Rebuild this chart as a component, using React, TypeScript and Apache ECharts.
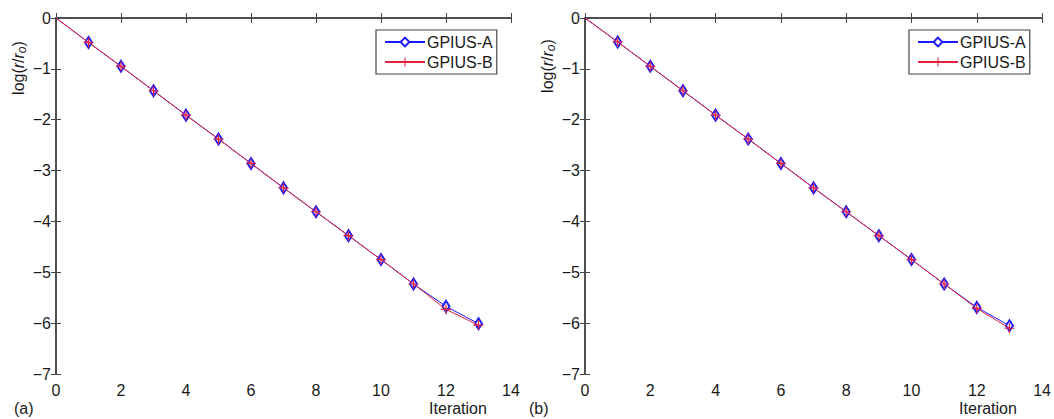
import React, { useEffect, useRef } from "react";
import * as echarts from "echarts";

const iterations = [0, 1, 2, 3, 4, 5, 6, 7, 8, 9, 10, 11, 12, 13];
const leftA = [0, -0.48, -0.95, -1.43, -1.91, -2.38, -2.86, -3.34, -3.81, -4.28, -4.75, -5.23, -5.67, -6.01];
const leftB = [0, -0.48, -0.95, -1.43, -1.91, -2.38, -2.86, -3.34, -3.81, -4.28, -4.75, -5.23, -5.73, -6.04];
const rightA = [0, -0.47, -0.95, -1.43, -1.91, -2.38, -2.86, -3.34, -3.81, -4.28, -4.75, -5.23, -5.69, -6.05];
const rightB = [0, -0.47, -0.95, -1.43, -1.91, -2.38, -2.86, -3.34, -3.81, -4.28, -4.75, -5.23, -5.71, -6.10];
const seriesNames = ["GPIUS-A", "GPIUS-B"];
const panelLabels = ["(a)", "(b)"];
const xName = "Iteration";

const FONT = "Liberation Sans, Arial, sans-serif";
const FS = 16;
const AXIS_COLOR = "#444";
const TXT = "#1a1a1a";
const BLUE = "#1a1aff";
const RED = "#e8203c";
const PLUS = "path://M4.4,0H5.6V4.4H10V5.6H5.6V10H4.4V5.6H0V4.4H4.4Z";

const toData = (ys: number[]) =>
  iterations.map((x, i) => (i === 0 ? { value: [x, ys[i]], symbol: "none" } : [x, ys[i]]));

const fmtY = (v: number) => (v < 0 ? "\u2212" + Math.abs(v) : String(v));

export default function App() {
  const ref = useRef<HTMLDivElement>(null);
  useEffect(() => {
    if (!ref.current) return;
    const chart = echarts.init(ref.current, undefined, { renderer: "svg" });
    const grids = [
      { left: 56, top: 18, width: 455, height: 356 },
      { left: 585, top: 18, width: 460, height: 356 },
    ];
    const xAxes: any[] = [];
    const yAxes: any[] = [];
    grids.forEach((_, gi) => {
      const line = { show: true, lineStyle: { color: AXIS_COLOR, width: 1.5 } };
      const tick = { show: true, inside: true, length: 5, lineStyle: { color: AXIS_COLOR } };
      xAxes.push({
        type: "value", gridIndex: gi, min: 0, max: 14, interval: 2, position: "bottom",
        axisLine: line, axisTick: tick,
        axisLabel: { color: TXT, fontSize: FS, fontFamily: FONT, margin: 8 },
        splitLine: { show: false },
      });
      xAxes.push({
        type: "value", gridIndex: gi, min: 0, max: 14, interval: 2, position: "top",
        axisLine: line, axisTick: tick, axisLabel: { show: false }, splitLine: { show: false },
      });
      yAxes.push({
        type: "value", gridIndex: gi, min: -7, max: 0, interval: 1, position: "left",
        axisLine: line, axisTick: tick,
        axisLabel: { color: TXT, fontSize: FS, fontFamily: FONT, margin: 5, formatter: fmtY },
        splitLine: { show: false },
      });
      yAxes.push({
        type: "value", gridIndex: gi, min: -7, max: 0, interval: 1, position: "right",
        axisLine: line, axisTick: tick, axisLabel: { show: false }, splitLine: { show: false },
      });
    });
    const mk = (name: string, ys: number[], gi: number, isA: boolean) => ({
      name, type: "line", xAxisIndex: gi * 2, yAxisIndex: gi * 2, data: toData(ys),
      symbol: isA ? "emptyDiamond" : PLUS,
      symbolSize: isA ? [7, 11] : 10,
      showAllSymbol: true,
      lineStyle: { color: isA ? BLUE : RED, width: 1 },
      itemStyle: isA ? { color: BLUE, borderColor: BLUE, borderWidth: 1 } : { color: RED, borderWidth: 0 },
      z: isA ? 2 : 3,
    });
    const yNameRich = {
      n: { fontSize: FS, fontFamily: FONT, fill: TXT },
      i: { fontSize: FS, fontFamily: FONT, fontStyle: "italic", fill: TXT },
      s: { fontSize: 12, fontFamily: FONT, fontStyle: "italic", fill: TXT, padding: [8, 0, 0, 0] },
    };
    const yNameText = "{n|log(}{i|r}{n|/}{i|r}{s|o}{n|)}";
    const legendBase = {
      orient: "vertical", itemWidth: 40, itemHeight: 11, itemGap: 4,
      borderColor: AXIS_COLOR, borderWidth: 1.2, backgroundColor: "#fff", borderRadius: 0,
      padding: [4, 4, 4, 8],
      textStyle: { fontSize: FS, fontFamily: FONT, color: TXT, padding: [0, 0, 0, -3] },
      data: seriesNames,
    };
    const txt = (text: string, x: number, y: number, align = "left") => ({
      type: "text", x, y,
      style: { text, fontSize: FS, fontFamily: FONT, fill: TXT, align, verticalAlign: "middle" },
    });
    chart.setOption({
      animation: false,
      backgroundColor: "#fff",
      grid: grids,
      xAxis: xAxes,
      yAxis: yAxes,
      legend: [
        { ...legendBase, left: 376, top: 30 },
        { ...legendBase, left: 909, top: 30 },
      ],
      series: [
        mk(seriesNames[0], leftA, 0, true),
        mk(seriesNames[1], leftB, 0, false),
        mk(seriesNames[0], rightA, 1, true),
        mk(seriesNames[1], rightB, 1, false),
      ],
      graphic: [
        { type: "text", x: 18, y: 68, rotation: Math.PI / 2, style: { text: yNameText, rich: yNameRich, align: "center", verticalAlign: "middle" } },
        { type: "text", x: 547, y: 66, rotation: Math.PI / 2, style: { text: yNameText, rich: yNameRich, align: "center", verticalAlign: "middle" } },
        txt(panelLabels[0], 14, 408),
        txt(panelLabels[1], 529, 408),
        txt(xName, 458, 408, "center"),
        txt(xName, 988, 408, "center"),
      ],
    });
    return () => chart.dispose();
  }, []);
  return <div ref={ref} style={{ position: "fixed", left: 0, top: 0, width: 1054, height: 419 }} />;
}
